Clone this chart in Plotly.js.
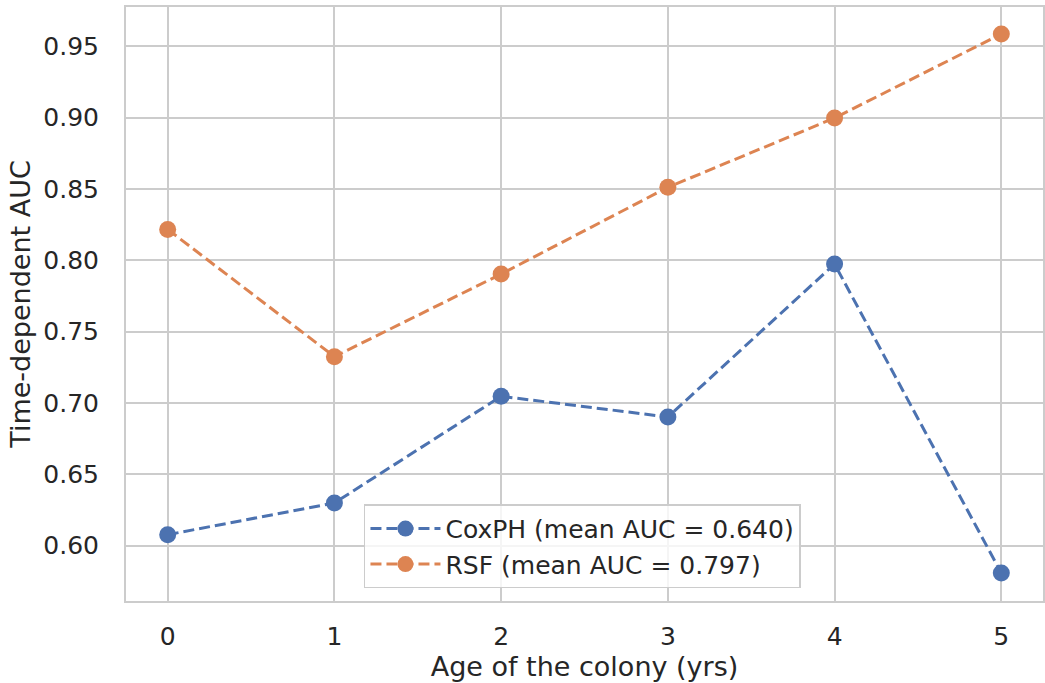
<!DOCTYPE html>
<html>
<head>
<meta charset="utf-8">
<script src="https://cdn.plot.ly/plotly-3.0.1.min.js"></script>
<style>html,body{margin:0;padding:0;background:#fff}#chart{width:1045px;height:683px}</style>
</head>
<body>
<div id="chart"></div>
<script>
var ages = [0, 1, 2, 3, 4, 5];
var coxphAUC = [0.6077, 0.6299, 0.7047, 0.6902, 0.7974, 0.5808];
var rsfAUC = [0.8217, 0.7325, 0.7904, 0.8512, 0.8998, 0.9587];
var coxphLabel = 'CoxPH (mean AUC = 0.640)';
var rsfLabel = 'RSF (mean AUC = 0.797)';
var xTitle = 'Age of the colony (yrs)';
var yTitle = 'Time-dependent AUC';
var yTicks = [0.60, 0.65, 0.70, 0.75, 0.80, 0.85, 0.90, 0.95];

var font = 'DejaVu Sans, sans-serif';
var traces = [
  {x: ages, y: coxphAUC, name: coxphLabel, type: 'scatter', mode: 'lines+markers',
   line: {color: '#4C72B0', width: 3, dash: '11px,5px'},
   marker: {color: '#4C72B0', size: 17}},
  {x: ages, y: rsfAUC, name: rsfLabel, type: 'scatter', mode: 'lines+markers',
   line: {color: '#DD8452', width: 3, dash: '11px,5px'},
   marker: {color: '#DD8452', size: 17}}
];
var layout = {
  width: 1045, height: 683,
  margin: {l: 126, r: 2, t: 7, b: 82, pad: 0},
  paper_bgcolor: '#ffffff', plot_bgcolor: '#ffffff',
  font: {family: font, size: 25, color: '#262626'},
  showlegend: true,
  legend: {x: 0.2595, y: 0.0214, xanchor: 'left', yanchor: 'bottom',
           bgcolor: 'rgba(255,255,255,0.8)', bordercolor: '#cccccc', borderwidth: 1.5,
           font: {family: font, size: 25, color: '#262626'}, tracegroupgap: 0, itemwidth: 70},
  xaxis: {range: [-0.25, 5.25], tickvals: ages, ticktext: ages.map(String),
          showgrid: true, gridcolor: '#cccccc', gridwidth: 2, zeroline: false,
          showline: true, linecolor: '#cccccc', linewidth: 2, mirror: true,
          ticks: '', ticklabelstandoff: 12, tickfont: {family: font, size: 25, color: '#262626'},
          title: {text: xTitle, font: {family: font, size: 27, color: '#262626'}, standoff: 6}},
  yaxis: {range: [0.5612, 0.9776], tickvals: yTicks, ticktext: yTicks.map(function(v){return v.toFixed(2);}),
          showgrid: true, gridcolor: '#cccccc', gridwidth: 2, zeroline: false,
          showline: true, linecolor: '#cccccc', linewidth: 2, mirror: true,
          ticks: '', ticklabelstandoff: 20, tickfont: {family: font, size: 25, color: '#262626'},
          title: {text: yTitle, font: {family: font, size: 27, color: '#262626'}, standoff: 5}}
};
Plotly.newPlot('chart', traces, layout, {displayModeBar: false, staticPlot: true});
</script>
</body>
</html>
